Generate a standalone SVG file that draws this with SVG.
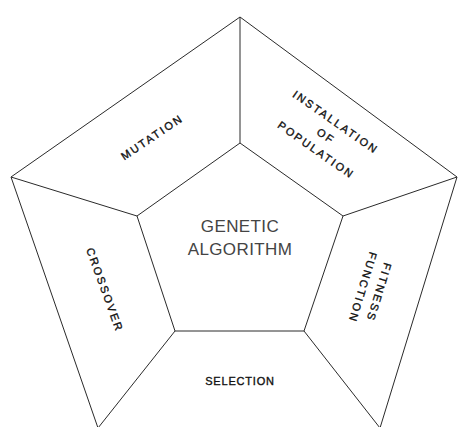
<svg xmlns="http://www.w3.org/2000/svg" width="459" height="427" viewBox="0 0 459 427">
<style>
.ln{stroke:#2a2a2a;stroke-width:1;fill:none}
.lb{font-family:"Liberation Sans",Arial,sans-serif;font-size:11px;fill:#111;stroke:#111;stroke-width:0.35;text-anchor:middle;letter-spacing:2.1px}
.ct{font-family:"Liberation Sans",Arial,sans-serif;font-size:17px;fill:#444;text-anchor:middle;letter-spacing:0.4px}
</style>
<rect width="459" height="427" fill="#fff"/>
<g id="connectors">
<polyline class="ln" points="98,428 11,177 240,17 457,177 380,428"/>
<polygon class="ln" points="240,143 343,216 304,331 175,331 137,216"/>
<line class="ln" x1="240" y1="143" x2="240" y2="17"/>
<line class="ln" x1="137" y1="216" x2="11" y2="177"/>
<line class="ln" x1="343" y1="216" x2="457" y2="177"/>
<line class="ln" x1="175" y1="331" x2="98" y2="428"/>
<line class="ln" x1="304" y1="331" x2="380" y2="428"/>
</g>
<g id="center">
<text class="ct" x="240" y="232">GENETIC</text>
<text class="ct" x="240" y="255">ALGORITHM</text>
</g>
<g id="mutation" transform="translate(152,137) rotate(-34)">
<text class="lb" x="0" y="4">MUTATION</text>
</g>
<g id="installation" transform="translate(326,136) rotate(35)">
<text class="lb" x="0" y="-13">INSTALLATION</text>
<text class="lb" x="0" y="4">OF</text>
<text class="lb" x="0" y="21">POPULATION</text>
</g>
<g id="crossover" transform="translate(105,290) rotate(70)">
<text class="lb" x="0" y="4">CROSSOVER</text>
</g>
<g id="fitness" transform="translate(371,290) rotate(107)">
<text class="lb" x="0" y="-4.5">FITNESS</text>
<text class="lb" x="0" y="12.5">FUNCTION</text>
</g>
<g id="selection">
<text class="lb" x="240" y="385" style="letter-spacing:0.8px">SELECTION</text>
</g>
</svg>
